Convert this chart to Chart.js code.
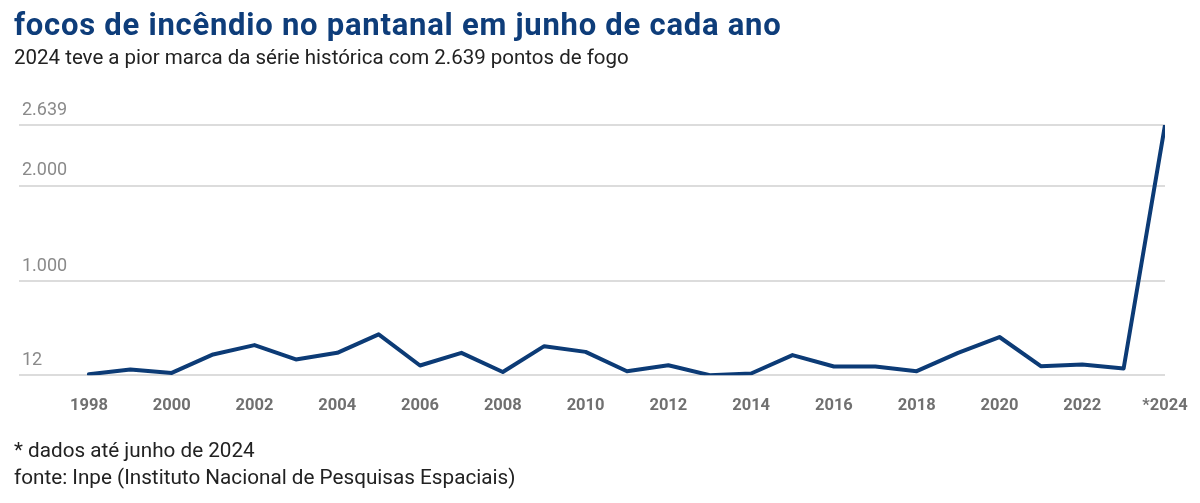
<!DOCTYPE html>
<html><head><meta charset="utf-8">
<script src="https://cdn.jsdelivr.net/npm/chart.js@4"></script>
<style>
html,body{margin:0;padding:0;background:#fff;}
#wrap{position:relative;width:1200px;height:503px;overflow:hidden;font-family:Roboto,sans-serif;}
#title{position:absolute;left:14px;top:3px;font-size:31px;line-height:44px;font-weight:700;color:#0e3d7a;white-space:nowrap;letter-spacing:0.75px;}
#sub{position:absolute;left:14px;top:43px;font-size:20.5px;line-height:28px;color:#222;white-space:nowrap;}
#foot{position:absolute;left:14px;top:437px;font-size:20.7px;color:#222;line-height:27px;white-space:nowrap;}
#c{position:absolute;left:0;top:0;}
</style></head>
<body><div id="wrap">
<canvas id="c" width="1200" height="503"></canvas>
<div id="title">focos de incêndio no pantanal em junho de cada ano</div>
<div id="sub">2024 teve a pior marca da série histórica com 2.639 pontos de fogo</div>
<div id="foot">* dados até junho de 2024<br>fonte: Inpe (Instituto Nacional de Pesquisas Espaciais)</div>
</div>
<script>
const years = [1998,1999,2000,2001,2002,2003,2004,2005,2006,2007,2008,2009,2010,2011,2012,2013,2014,2015,2016,2017,2018,2019,2020,2021,2022,2023,2024];
const focos = [22,72,36,230,328,177,247,441,114,247,46,317,257,54,117,12,30,223,103,103,54,247,413,107,124,82,2639];
const xTickYears = [1998,2000,2002,2004,2006,2008,2010,2012,2014,2016,2018,2020,2022,2024];
const xTickLabels = ['1998','2000','2002','2004','2006','2008','2010','2012','2014','2016','2018','2020','2022','*2024'];
const yTickValues = [12,1000,2000,2639];
const yTickLabels = ['12','1.000','2.000','2.639'];

new Chart(document.getElementById('c'), {
  type: 'line',
  data: {
    datasets: [{
      data: years.map((y,i)=>({x:y,y:focos[i]})),
      borderColor: '#0c3b76',
      borderWidth: 4,
      pointRadius: 0,
      tension: 0,
      borderJoinStyle: 'round',
      borderCapStyle: 'round'
    }]
  },
  options: {
    responsive: false,
    animation: false,
    layout: { padding: { left: 13, right: 35, top: 125, bottom: 66 } },
    plugins: { legend: {display:false}, tooltip: {enabled:false}, title:{display:false} },
    scales: {
      x: {
        type: 'linear',
        min: 1996.31, max: 2024,
        afterBuildTicks: s => { s.ticks = xTickYears.map(v=>({value:v})); },
        afterFit: s => { s.paddingLeft = 0; s.paddingRight = 0; },
        grid: { display: false, drawTicks: false },
        border: { display: false },
        ticks: {
          autoSkip: false, maxRotation: 0, padding: 21,
          color: '#707070',
          font: { family: 'Roboto', size: 16.5, weight: 'bold' },
          callback: v => xTickLabels[xTickYears.indexOf(v)]
        }
      },
      y: {
        min: 12, max: 2639,
        afterBuildTicks: s => { s.ticks = yTickValues.map(v=>({value:v})); },
        grid: { color: '#dcdcdc', lineWidth: 2, drawTicks: false },
        border: { display: false },
        ticks: {
          mirror: true, padding: 3, labelOffset: -15,
          color: '#8a8a8a',
          font: { family: 'Roboto', size: 18 },
          callback: v => yTickLabels[yTickValues.indexOf(v)]
        }
      }
    }
  }
});
</script>
</body></html>
